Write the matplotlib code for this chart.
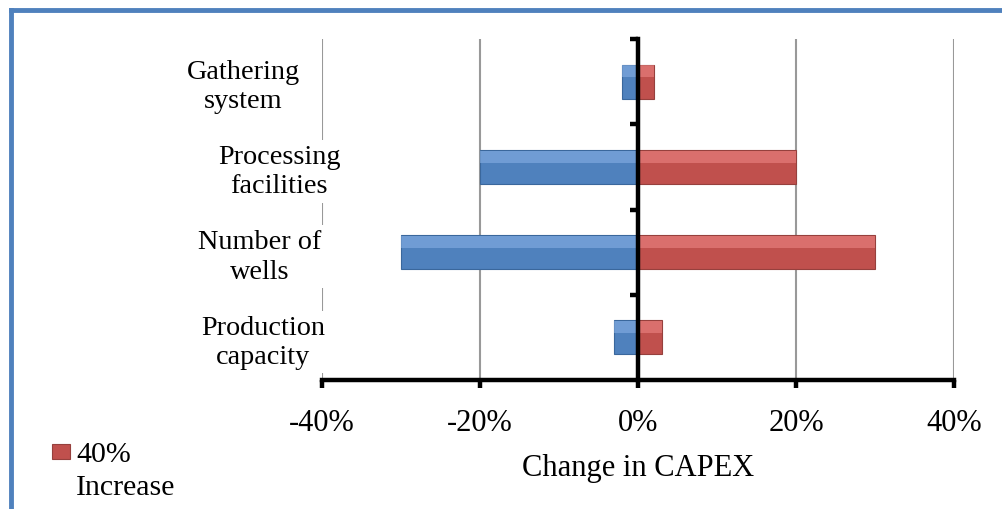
import matplotlib
matplotlib.use("Agg")
import matplotlib.pyplot as plt
from matplotlib.patches import Rectangle
from matplotlib.lines import Line2D
import numpy as np

# data (bottom to top)
categories = ["Production\ncapacity", "Number of\nwells", "Processing\nfacilities", "Gathering\nsystem"]
decrease_40 = [-3, -30, -20, -2]   # % change, blue series
increase_40 = [3, 30, 20, 2]       # % change, red series
xticks = [-40, -20, 0, 20, 40]
legend_label = "40%\nIncrease"
# label centre offsets (axes fraction) to mimic the excel layout
label_x = [-0.093, -0.098, -0.068, -0.125]

plt.rcParams['font.family'] = ['Liberation Serif', 'DejaVu Serif']

blue, blue_lt = "#4F81BD", "#8DB4E8"
red, red_lt = "#C0504D", "#F08A88"

fig = plt.figure(figsize=(10.02, 5.10), dpi=100)
ax = fig.add_axes([0.3214, 0.2529, 0.6307, 0.6686])

y = np.arange(len(categories))
h = 0.4
ax.barh(y, decrease_40, height=h, color=blue, edgecolor="#3A679C", linewidth=0.8, zorder=3)
ax.barh(y, increase_40, height=h, color=red, edgecolor="#96403D", linewidth=0.8, zorder=3)
# lighter bevel on top part of each bar
ax.barh(y + h * 0.3, decrease_40, height=h * 0.35, color=blue_lt, alpha=0.55, linewidth=0, zorder=3.1)
ax.barh(y + h * 0.3, increase_40, height=h * 0.35, color=red_lt, alpha=0.55, linewidth=0, zorder=3.1)

ax.set_xlim(-40, 40)
ax.set_ylim(-0.5, 3.5)
ax.set_xticks(xticks)
ax.set_xticklabels([f"{v}%" for v in xticks], fontsize=22)
ax.set_yticks([0.5, 1.5, 2.5, 3.5])
ax.set_yticklabels([])

ax.grid(axis='x', color="#999999", linewidth=1.5, zorder=0)
ax.set_axisbelow(True)

for s in ['top', 'right']:
    ax.spines[s].set_visible(False)
ax.spines['left'].set_position(('data', 0))
ax.spines['left'].set_linewidth(3.2)
ax.spines['left'].set_zorder(4)
ax.spines['bottom'].set_linewidth(3.2)
ax.tick_params(axis='y', length=6, width=3.2, direction='out', color='black')
ax.tick_params(axis='x', length=6, width=3.2, direction='out', pad=14)

for yi, lab, lx in zip(y, categories, label_x):
    ax.text(lx, (yi + 0.5) / 4 - 0.013, lab, transform=ax.transAxes, fontsize=20.3,
            ha='center', va='center', multialignment='center', linespacing=1.22,
            clip_on=False, zorder=5,
            bbox=dict(facecolor='white', edgecolor='none', pad=3))

ax.set_xlabel("Change in CAPEX", fontsize=22, labelpad=12)

# legend: single visible entry, drawn on the figure
fig.add_artist(Rectangle((0.052, 0.098), 0.018, 0.029, transform=fig.transFigure,
                         facecolor=red, edgecolor="#96403D", linewidth=0.8))
fig.text(0.076, 0.134, legend_label, fontsize=21.5, ha='left', va='top', linespacing=1.35)

# blue frame edges at top and left
fig.add_artist(Line2D([0.0105, 0.0105], [0, 0.979], color="#4F81BD", linewidth=3.5))
fig.add_artist(Line2D([0.0105, 1.0], [0.979, 0.979], color="#4F81BD", linewidth=3.5))

fig.savefig("out.png", dpi=100)
